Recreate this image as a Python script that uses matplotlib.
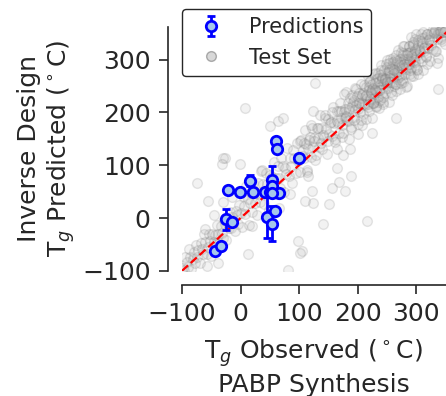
import matplotlib
matplotlib.use('Agg')
from matplotlib import pyplot as plt

# inverse-design predictions checked against PABP synthesis
pabp_obs = [-44, -34, -25, -14, -21, -1, 16, 21, 42, 50, 65, 53, 53, 61, 63, 100, 45, 59, 54, 53]
pabp_pred = [-62, -53, -2, -8, 54, 49, 71, 49, 49, 49, 48, 73, 61, 146, 131, 114, 2, 13, -11, 48]
pabp_err = [3, 3, 20, 4, 3, 3, 11, 3, 3, 3, 3, 25, 8, 5, 4, 3, 40, 6, 33, 3]

# test set (observed, predicted)
test_pts = [
    # -100 .. 0
    (-98, -94), (-96, -99), (-94, -73), (-92, -84), (-90, -92), (-88, -59), (-86, -73), (-84, -97),
    (-82, -77), (-80, -64), (-78, -85), (-76, -51), (-74, -73), (-72, -61), (-70, -86), (-68, -48),
    (-66, -59), (-64, -68), (-62, -31), (-60, -46), (-58, -68), (-56, -54), (-54, -31), (-52, -43),
    (-50, -71), (-48, -31), (-46, -46), (-44, -32), (-42, -47), (-40, -13), (-38, -31), (-36, -48),
    (-34, -15), (-32, -28), (-30, -38), (-28, -4), (-26, -12), (-24, -41), (-22, -12), (-20, -18),
    (-18, 12), (-16, -19), (-14, 2), (-12, -6), (-10, -24), (-8, 14), (-6, 5), (-4, -11), (-2, 24),
    # 0 .. 100
    (0, 10), (2, -17), (4, 42), (6, 23), (8, 8), (10, 61), (12, 36), (14, -14),
    (16, 28), (18, 48), (20, 11), (22, 66), (24, 29), (26, 47), (28, 5), (30, 66),
    (32, 46), (34, 30), (36, 91), (38, 65), (40, 26), (42, 49), (44, 85), (46, 64),
    (48, 16), (50, 82), (52, 55), (54, 77), (56, 50), (58, 106), (60, 75), (62, 45),
    (64, 98), (66, 75), (68, 57), (70, 113), (72, 98), (74, 49), (76, 95), (78, 84),
    (80, 133), (82, 80), (84, 113), (86, 99), (88, 67), (90, 129), (92, 114), (94, 86),
    (96, 142), (98, 109),
    # 100 .. 200
    (100, 115), (102, 88), (104, 147), (106, 128), (108, 113), (110, 166), (112, 141), (114, 91),
    (116, 133), (118, 153), (120, 116), (122, 171), (124, 134), (126, 152), (128, 110), (130, 171),
    (132, 151), (134, 135), (136, 196), (138, 170), (140, 131), (142, 154), (144, 190), (146, 169),
    (148, 121), (150, 187), (152, 160), (154, 182), (156, 155), (158, 211), (160, 180), (162, 150),
    (164, 203), (166, 180), (168, 162), (170, 218), (172, 203), (174, 154), (176, 200), (178, 189),
    (180, 238), (182, 185), (184, 218), (186, 204), (188, 172), (190, 234), (192, 219), (194, 191),
    (196, 247), (198, 214),
    (101, 146), (105, 118), (109, 142), (113, 88), (117, 147), (121, 176), (125, 146), (129, 119),
    (133, 171), (137, 143), (141, 157), (145, 196), (149, 146), (153, 180), (157, 201), (161, 145),
    (165, 183), (169, 203), (173, 176), (177, 235), (181, 192), (185, 209), (189, 169), (193, 224),
    (197, 245),
    # 200 .. 250
    (200, 207), (201, 179), (202, 237), (203, 217), (204, 201), (205, 253), (206, 227), (207, 176),
    (208, 217), (209, 236), (210, 198), (211, 252), (212, 214), (213, 231), (214, 188), (215, 248),
    (216, 227), (217, 210), (218, 270), (219, 243), (220, 203), (221, 225), (222, 260), (223, 238),
    (224, 189), (225, 254), (226, 226), (227, 247), (228, 219), (229, 274), (230, 242), (231, 211),
    (232, 263), (233, 239), (234, 220), (235, 275), (236, 259), (237, 209), (238, 254), (239, 242),
    (240, 290), (241, 236), (242, 268), (243, 253), (244, 220), (245, 281), (246, 265), (247, 236),
    (248, 291), (249, 257),
    # 250 .. 300
    (250, 287), (251, 256), (252, 277), (253, 220), (254, 276), (255, 302), (256, 269), (257, 239),
    (258, 288), (259, 257), (260, 268), (261, 304), (262, 251), (263, 282), (264, 300), (265, 241),
    (266, 276), (267, 293), (268, 263), (269, 319), (270, 273), (271, 287), (272, 244), (273, 296),
    (274, 314), (275, 261), (276, 282), (277, 308), (278, 258), (279, 291), (280, 325), (281, 272),
    (282, 302), (283, 283), (284, 313), (285, 250), (286, 301), (287, 325), (288, 292), (289, 272),
    (290, 314), (291, 343), (292, 285), (293, 304), (294, 327), (295, 269), (296, 314), (297, 299),
    (298, 339), (299, 287),
    (220, 249), (222, 222), (224, 244), (226, 217), (228, 273), (230, 242), (232, 212), (234, 265),
    (236, 242), (238, 224), (240, 280), (242, 265), (244, 216), (246, 262), (248, 251), (250, 300),
    (252, 247), (254, 280), (256, 266), (258, 234), (260, 296), (262, 281), (264, 253), (266, 309),
    (268, 276), (270, 268), (272, 302), (274, 256), (276, 289), (278, 325), (280, 302), (282, 249),
    (284, 309), (286, 291), (288, 325), (290, 297), (292, 270), (294, 329), (296, 310), (298, 295),
    (300, 348), (302, 323), (304, 273), (306, 315), (308, 335), (310, 298), (312, 353), (314, 316),
    (316, 334), (318, 292),
    # 300 .. 350
    (300, 307), (302, 280), (303, 338), (305, 319), (307, 304), (308, 348), (310, 331), (312, 281),
    (313, 322), (315, 342), (317, 305), (318, 348), (320, 322), (322, 340), (323, 297), (325, 350),
    (327, 338), (328, 321), (330, 352), (332, 356), (333, 316), (335, 339), (337, 352), (338, 303),
    (340, 350), (342, 342), (343, 355), (345, 336), (347, 352), (349, 329),
    # extra points in the dense core
    (172, 190), (175, 162), (178, 206), (181, 194), (184, 184), (187, 228), (190, 212), (193, 186),
    (196, 204), (199, 231), (202, 218), (205, 185), (208, 233), (211, 216), (214, 233), (217, 216),
    (220, 257), (223, 236), (226, 217), (229, 256), (232, 241), (235, 230), (238, 271), (241, 262),
    (244, 229), (247, 263), (250, 257), (253, 293), (256, 258), (259, 282), (262, 274), (265, 253),
    (268, 298), (271, 289), (274, 271), (277, 312), (280, 291), (283, 287), (286, 312), (289, 281),
    (292, 306), (295, 333), (298, 318), (301, 283), (304, 327), (307, 316), (310, 341), (313, 323),
    (316, 306), (319, 349), (322, 337), (325, 328), (328, 358), (331, 351), (334, 317), (337, 348),
    (340, 354), (343, 340), (346, 352), (349, 355),
    # stragglers away from the diagonal
    (-74, 66), (-55, 32), (-26, 114), (-1, 102), (8, 208), (-30, 114), (-32, 102), (-38, -85),
    (-57, -91), (13, -68), (-60, -20), (-45, 5), (-30, 30), (-15, 40), (50, 174), (64, 184),
    (73, 189), (81, -98), (98, -44), (105, -62), (102, -66), (127, 256), (124, 203), (141, -11),
    (122, 51), (124, 28), (110, 32), (151, 26), (179, 51), (189, 80), (168, 68), (156, 57),
    (216, -6), (225, 161), (266, 190), (338, 244), (336, 294), (20, -15), (35, 90), (65, 20),
    (85, 45), (115, 80), (165, 130), (185, 150), (187, 130), (165, 95), (200, 160), (175, 120),
]
test_obs = [p[0] for p in test_pts]
test_pred = [p[1] for p in test_pts]

parity = [-100, 400]

plt.rcParams['font.family'] = 'DejaVu Sans'
plt.rcParams['text.color'] = '0.15'
plt.rcParams['axes.labelcolor'] = '0.15'
plt.rcParams['xtick.color'] = '0.15'
plt.rcParams['ytick.color'] = '0.15'

fig = plt.figure(figsize=(4.46, 3.96), dpi=100)
ax = fig.add_axes([0.408, 0.316, 0.592, 0.616])

ax.plot(test_obs, test_pred, 'o', color='0.4', mfc='0.7', ms=7, alpha=0.16,
        label='Test Set', zorder=1)
ax.plot(parity, parity, 'r--', lw=1.6, zorder=2)
ax.errorbar(pabp_obs, pabp_pred, yerr=pabp_err, fmt='o', color='b', mfc='#a6c8ea',
            mec='b', mew=2, ms=7.5, elinewidth=2, capsize=3, capthick=2,
            label='Predictions', zorder=3)

ax.set_xlim(-100, 351)
ax.set_ylim(-100, 362)
ax.set_xticks([-100, 0, 100, 200, 300])
ax.set_yticks([-100, 0, 100, 200, 300])
ax.tick_params(labelsize=18, length=6.5, width=1.2, pad=6)

for side in ['top', 'right']:
    ax.spines[side].set_visible(False)
for side in ['left', 'bottom']:
    ax.spines[side].set_position(('outward', 10))
    ax.spines[side].set_linewidth(1.2)
    ax.spines[side].set_color('0.15')

ax.set_xlabel('T$_g$ Observed ($^\\circ$C)\nPABP Synthesis', fontsize=18, labelpad=8)
ax.set_ylabel('Inverse Design\nT$_g$ Predicted ($^\\circ$C)', fontsize=18, labelpad=4)

handles, labels = ax.get_legend_handles_labels()
order = [labels.index('Predictions'), labels.index('Test Set')]
leg = ax.legend([handles[i] for i in order], [labels[i] for i in order],
                loc='upper left', bbox_to_anchor=(0, 1.074), borderaxespad=0,
                fontsize=15, numpoints=1, framealpha=1, edgecolor='0.15')
leg.legend_handles[1].set_alpha(0.5)

fig.savefig('out.png', dpi=100)
